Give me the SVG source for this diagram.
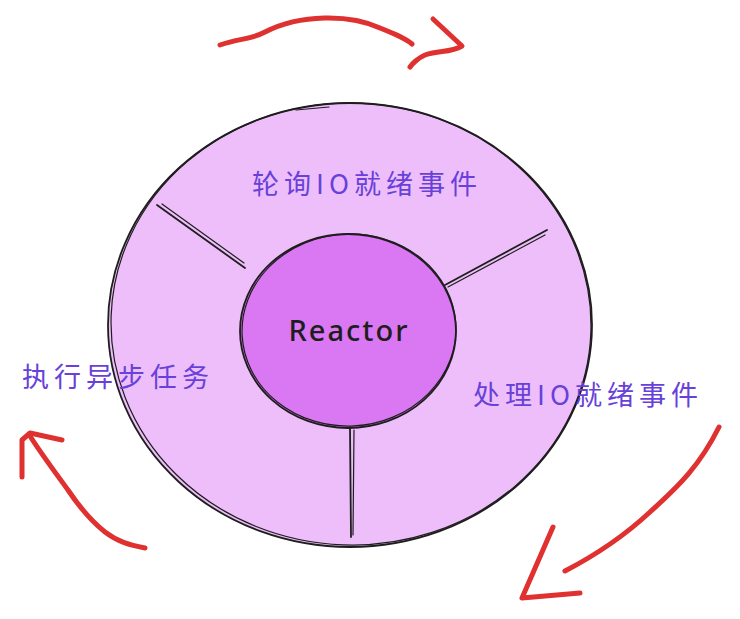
<svg xmlns="http://www.w3.org/2000/svg" width="740" height="619" viewBox="0 0 740 619">
<style>
.ln{fill:none;stroke:#1e1e1e;stroke-width:1.8;stroke-linecap:round}
.ln2{fill:none;stroke:#1e1e1e;stroke-width:1.2;stroke-linecap:round}
.arr{fill:none;stroke:#e03131;stroke-width:5;stroke-linecap:round;stroke-linejoin:round}
.lbl{font-family:"Noto Sans CJK SC","Noto Sans",sans-serif;font-size:27px;letter-spacing:5px;fill:#6741d9}
.rx{font-family:"Comic Sans MS","Noto Sans",sans-serif;font-size:29px;font-weight:500;letter-spacing:2px;fill:#1e1e1e}
</style>
<rect width="740" height="619" fill="#ffffff"/>
<g id="outer">
<ellipse cx="350" cy="325" rx="242" ry="222" fill="#eebefa"/>
<ellipse class="ln" cx="350" cy="325" rx="242" ry="222"/>
<ellipse class="ln2" cx="351" cy="324" rx="240" ry="221" transform="rotate(2 351 324)"/>
<path class="ln2" d="M296 110 L329 107"/>
</g>
<g id="connectors">
<path class="ln" d="M157 205 L245 268"/>
<path class="ln2" d="M162 204 L244 263"/>
<path class="ln" d="M547 230 L445 285"/>
<path class="ln2" d="M545 235 L448 287"/>
<path class="ln" d="M350 428 L351 537"/>
<path class="ln2" d="M354 430 L353 535"/>
</g>
<g id="reactor">
<ellipse cx="348" cy="331" rx="108" ry="97" fill="#da77f2"/>
<ellipse class="ln" cx="348" cy="331" rx="108" ry="97"/>
<ellipse class="ln2" cx="349" cy="330" rx="107" ry="96" transform="rotate(-3 349 330)"/>
<text class="rx" x="349" y="341" text-anchor="middle">Reactor</text>
</g>
<g id="label-poll"><text class="lbl" x="367" y="194" text-anchor="middle">轮询IO就绪事件</text></g>
<g id="label-exec"><text class="lbl" x="118" y="387" text-anchor="middle">执行异步任务</text></g>
<g id="label-handle"><text class="lbl" x="588" y="405" text-anchor="middle">处理IO就绪事件</text></g>
<g id="arrows">
<path class="arr" d="M220 45 C240 38 250 40 265 32 C300 14 350 14 380 28 C395 34 405 38 412 44"/>
<path class="arr" d="M433 19 L462 46 C450 53 440 50 425 55 C418 58 412 64 410 67"/>
<path class="arr" d="M145 548 C130 545 118 542 105 532 C90 520 78 505 68 490 C52 468 40 452 30 436"/>
<path class="arr" d="M22 477 L22 440 L30 433 L62 440"/>
<path class="arr" d="M719 427 C700 465 680 485 650 512 C620 540 590 558 565 571"/>
<path class="arr" d="M553 527 L522 598 L580 593"/>
</g>
</svg>
